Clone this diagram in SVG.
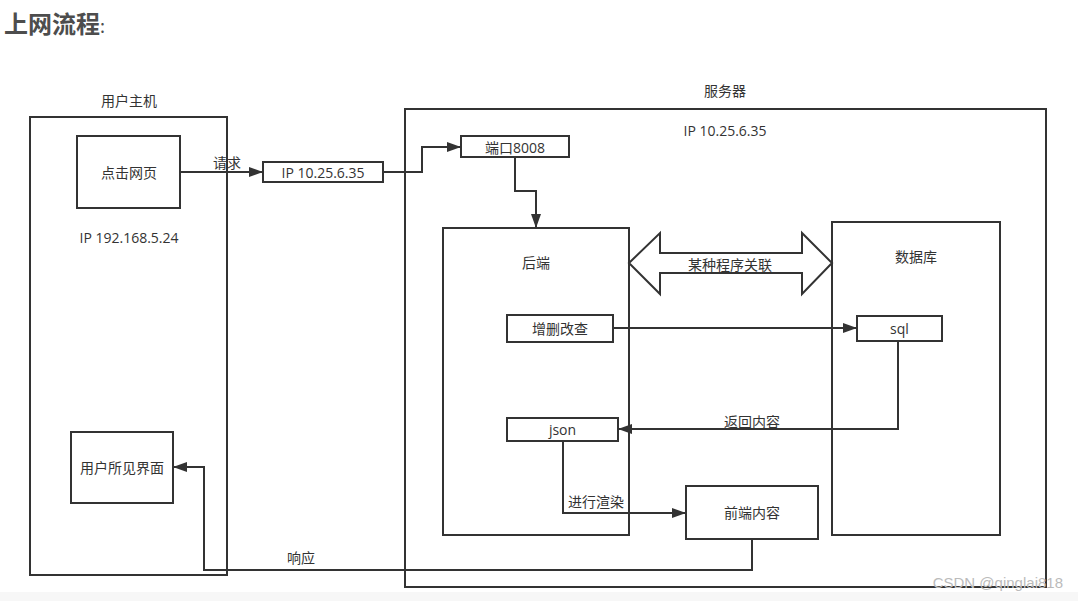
<svg xmlns="http://www.w3.org/2000/svg" width="1078" height="601" viewBox="0 0 1078 601">
<style>
.box{fill:#fff;stroke:#333;stroke-width:2}
.t{font-family:"Open Sans","Noto Sans CJK SC",sans-serif;font-size:14px;fill:#333;text-anchor:middle;dominant-baseline:central}
.c{fill:none;stroke:#333;stroke-width:2}
</style>
<defs>
<marker id="ah" markerWidth="14" markerHeight="10" refX="14" refY="5" orient="auto" markerUnits="userSpaceOnUse">
<path d="M0,0 L14,5 L0,10 Z" fill="#333"/>
</marker>
</defs>
<rect x="0" y="0" width="1078" height="601" fill="#fff"/>
<rect x="0" y="592" width="1078" height="9" fill="#f7f7f7"/>
<text x="4" y="33" font-family="'Noto Sans CJK SC',sans-serif" font-size="24" font-weight="bold" fill="#4d4d4d">上网流程<tspan font-weight="normal" font-size="18">:</tspan></text>

<g id="user-host">
<rect class="box" x="30" y="117" width="197" height="458"/>
<text class="t" x="129" y="100">用户主机</text>
<text class="t" x="129" y="237">IP 192.168.5.24</text>
</g>
<g id="server">
<rect class="box" x="405" y="109" width="641" height="478"/>
<text class="t" x="725" y="90">服务器</text>
<text class="t" x="725" y="130">IP 10.25.6.35</text>
</g>
<g id="click">
<rect class="box" x="77" y="136" width="103" height="72"/>
<text class="t" x="129" y="172">点击网页</text>
</g>
<g id="ip-box">
<rect class="box" x="263" y="162" width="120" height="20"/>
<text class="t" x="323" y="172">IP 10.25.6.35</text>
</g>
<g id="port">
<rect class="box" x="461" y="136" width="108" height="21"/>
<text class="t" x="515" y="147">端口8008</text>
</g>
<g id="backend">
<rect class="box" x="443" y="228" width="186" height="307"/>
<text class="t" x="536" y="262">后端</text>
</g>
<g id="database">
<rect class="box" x="832" y="222" width="168" height="313"/>
<text class="t" x="916" y="256">数据库</text>
</g>
<g id="crud">
<rect class="box" x="507" y="315" width="106" height="27"/>
<text class="t" x="560" y="328.5">增删改查</text>
</g>
<g id="sql">
<rect class="box" x="857" y="316" width="85" height="25"/>
<text class="t" x="899.5" y="328.5">sql</text>
</g>
<g id="json">
<rect class="box" x="507" y="418" width="111" height="23"/>
<text class="t" x="562.5" y="429.5">json</text>
</g>
<g id="frontend">
<rect class="box" x="686" y="486" width="132" height="53"/>
<text class="t" x="752" y="512.5">前端内容</text>
</g>
<g id="user-view">
<rect class="box" x="71" y="432" width="102" height="71"/>
<text class="t" x="122" y="467.5">用户所见界面</text>
</g>
<g id="relation">
<path d="M629,263 L660,233 L660,253 L802,253 L802,233 L832,263 L802,294 L802,273 L660,273 L660,294 Z" fill="#fff" stroke="#333" stroke-width="2"/>
<text class="t" x="730" y="264">某种程序关联</text>
</g>

<g id="connectors">
<path class="c" d="M180,172 L263,172" marker-end="url(#ah)"/>
<text class="t" x="227" y="162">请求</text>
<path class="c" d="M383,172 L422,172 L422,147 L461,147" marker-end="url(#ah)"/>
<path class="c" d="M515,157 L515,191 L536,191 L536,228" marker-end="url(#ah)"/>
<path class="c" d="M613,328 L857,328" marker-end="url(#ah)"/>
<path class="c" d="M898,341 L898,429 L618,429" marker-end="url(#ah)"/>
<text class="t" x="752" y="421">返回内容</text>
<path class="c" d="M563,441 L563,513 L686,513" marker-end="url(#ah)"/>
<text class="t" x="596" y="501">进行渲染</text>
<path class="c" d="M752,539 L752,570 L204,570 L204,467 L173,467" marker-end="url(#ah)"/>
<text class="t" x="301" y="557">响应</text>
</g>
<text x="1063" y="588" font-family="'Liberation Sans',sans-serif" font-size="15" fill="#bbb" text-anchor="end">CSDN @qinglai818</text>
</svg>
